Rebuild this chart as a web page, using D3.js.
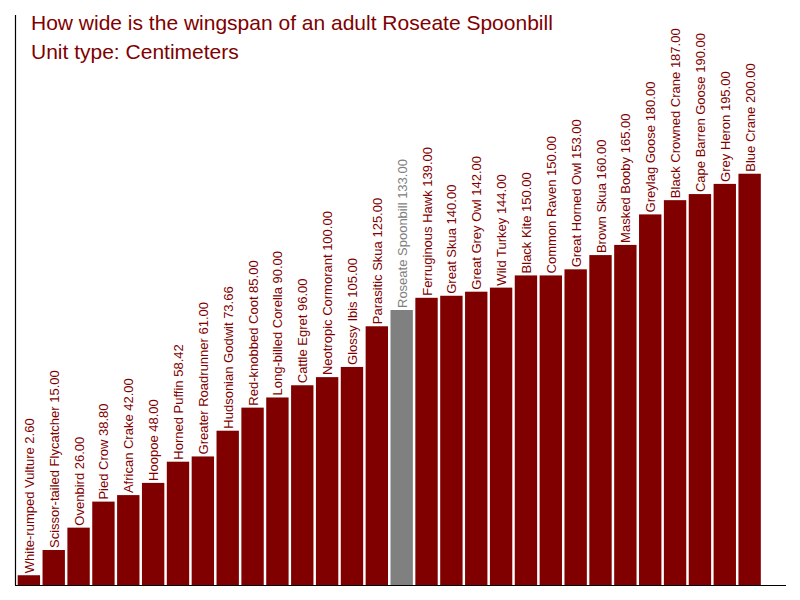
<!DOCTYPE html>
<html>
<head>
<meta charset="utf-8">
<script src="https://d3js.org/d3.v7.min.js"></script>
<style>
  body { margin: 0; background: #fff; }
  svg { display: block; font-family: "Liberation Sans", Arial, sans-serif; }
</style>
</head>
<body>
<div id="chart"></div>
<script>
// data
var birds = ["White-rumped Vulture", "Scissor-tailed Flycatcher", "Ovenbird", "Pied Crow",
    "African Crake", "Hoopoe", "Horned Puffin", "Greater Roadrunner", "Hudsonian Godwit",
    "Red-knobbed Coot", "Long-billed Corella", "Cattle Egret", "Neotropic Cormorant",
    "Glossy Ibis", "Parasitic Skua", "Roseate Spoonbill", "Ferruginous Hawk", "Great Skua",
    "Great Grey Owl", "Wild Turkey", "Black Kite", "Common Raven", "Great Horned Owl",
    "Brown Skua", "Masked Booby", "Greylag Goose", "Black Crowned Crane", "Cape Barren Goose",
    "Grey Heron", "Blue Crane"];
var wingspans = [2.6, 15, 26, 38.8, 42, 48, 58.42, 61, 73.66, 85, 90, 96, 100, 105, 125,
    133, 139, 140, 142, 144, 150, 150, 153, 160, 165, 180, 187, 190, 195, 200];
var highlight = "Roseate Spoonbill";
var titleLines = ["How wide is the wingspan of an adult Roseate Spoonbill", "Unit type: Centimeters"];

var width = 800, height = 600;
var data = birds.map(function(b, i){ return {name: b, value: wingspans[i]}; });

var svg = d3.select("#chart").append("svg")
    .attr("width", width)
    .attr("height", height);

var x = d3.scaleBand()
    .domain(birds)
    .range([15.2, 763.3])
    .paddingInner(0.1)
    .paddingOuter(0.1);

var y = d3.scaleLinear()
    .domain([-2.2, d3.max(wingspans) * 1.4])
    .range([585, 11]);

var colorOf = function(d){ return d.name === highlight ? "#808080" : "#800000"; };

svg.selectAll("rect.bar")
    .data(data)
    .enter()
    .append("rect")
    .attr("class", "bar")
    .attr("x", function(d){ return x(d.name); })
    .attr("y", function(d){ return y(d.value); })
    .attr("width", x.bandwidth())
    .attr("height", function(d){ return y(-2.2) - y(d.value); })
    .attr("fill", colorOf);

svg.selectAll("text.label")
    .data(data)
    .enter()
    .append("text")
    .attr("class", "label")
    .attr("transform", function(d){
        var cx = x(d.name) + x.bandwidth() / 2 + 5;
        return "translate(" + cx + "," + (y(d.value) - 2) + ") rotate(-90)";
    })
    .attr("font-size", "13px")
    .attr("fill", colorOf)
    .text(function(d){ return d.name + " " + d.value.toFixed(2); });

// axes lines
svg.append("line")
    .attr("x1", 15.5).attr("x2", 15.5)
    .attr("y1", 15).attr("y2", 585)
    .attr("stroke", "#000").attr("stroke-width", 1.2);
svg.append("line")
    .attr("x1", 15).attr("x2", 786)
    .attr("y1", 585.5).attr("y2", 585.5)
    .attr("stroke", "#000").attr("stroke-width", 1.2);

svg.selectAll("text.title")
    .data(titleLines)
    .enter()
    .append("text")
    .attr("class", "title")
    .attr("x", 31)
    .attr("y", function(d, i){ return 30 + i * 28.5; })
    .attr("font-size", "21px")
    .attr("fill", "#800000")
    .text(function(d){ return d; });
</script>
</body>
</html>
